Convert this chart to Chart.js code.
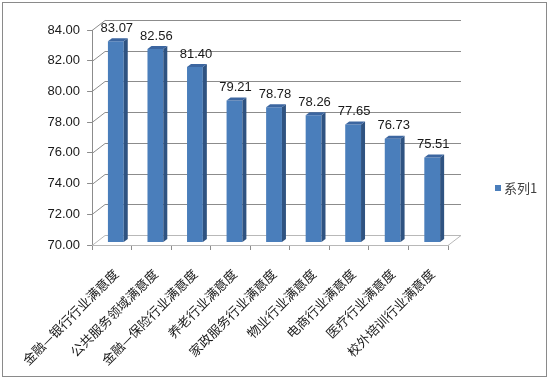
<!DOCTYPE html>
<html>
<head>
<meta charset="utf-8">
<script src="https://cdn.jsdelivr.net/npm/chart.js@4"></script>
<style>
  html, body { margin: 0; padding: 0; background: #fff; }
  canvas { display: block; }
</style>
</head>
<body>
<canvas id="chart" width="550" height="379"></canvas>
<script>
// data
const categories = ['金融—银行行业满意度', '公共服务领域满意度', '金融—保险行业满意度', '养老行业满意度',
    '家政服务行业满意度', '物业行业满意度', '电商行业满意度', '医疗行业满意度', '校外培训行业满意度'];
const values = [83.07, 82.56, 81.40, 79.21, 78.78, 78.26, 77.65, 76.73, 75.51];
const seriesName = '系列1';
const yMin = 70, yMax = 84, yStep = 2;

// 3D look
const WALL_DX = 13, WALL_DY = -10;   // depth of the floor / back wall
const BAR_DX = 4, BAR_DY = -3;       // bars sit a bit into the depth
const SIDE = 4, TOPD = 3;            // bar thickness faces
const FRONT = '#4a7ebb', SIDE_C = '#2f5381', TOP_C = '#3c66a0';

const walls = {
    id: 'walls',
    beforeDraw(chart) {
        const c = chart.ctx;
        c.save();
        c.strokeStyle = '#8a8a8a';
        c.lineWidth = 1;
        c.strokeRect(2.5, 2.5, 544, 374);
        c.restore();
    },
    beforeDatasetsDraw(chart) {
        const c = chart.ctx, y = chart.scales.y, a = chart.chartArea;
        c.save();
        c.lineWidth = 1;
        for (let v = yMin; v <= yMax; v += yStep) {
            const py = Math.round(y.getPixelForValue(v)) + 0.5;
            c.strokeStyle = v === yMin ? '#b8b8b8' : '#8c8c8c';
            c.beginPath();
            c.moveTo(a.left, py);
            c.lineTo(a.left + WALL_DX, py + WALL_DY);
            c.lineTo(a.right + WALL_DX, py + WALL_DY);
            c.stroke();
        }
        // right edge of the floor
        const by = Math.round(a.bottom) + 0.5;
        c.strokeStyle = '#b8b8b8';
        c.beginPath();
        c.moveTo(a.right, by);
        c.lineTo(a.right + WALL_DX, by + WALL_DY);
        c.stroke();
        c.restore();
    },
    beforeDatasetDraw(chart) {
        chart.ctx.save();
        chart.ctx.translate(BAR_DX, BAR_DY);
    },
    afterDatasetDraw(chart) {
        chart.ctx.restore();
    },
    afterDatasetsDraw(chart) {
        const c = chart.ctx;
        const meta = chart.getDatasetMeta(0);
        const floor = chart.scales.y.getPixelForValue(yMin);
        c.save();
        meta.data.forEach((bar, i) => {
            const l = bar.x - bar.width / 2 + BAR_DX;
            const r = bar.x + bar.width / 2 + BAR_DX;
            const t = bar.y + BAR_DY;
            const b = floor + BAR_DY;
            // side face
            c.fillStyle = SIDE_C;
            c.beginPath();
            c.moveTo(r, t);
            c.lineTo(r + SIDE, t - TOPD);
            c.lineTo(r + SIDE, b - TOPD);
            c.lineTo(r, b);
            c.closePath();
            c.fill();
            // top face
            c.fillStyle = TOP_C;
            c.beginPath();
            c.moveTo(l, t);
            c.lineTo(l + SIDE, t - TOPD);
            c.lineTo(r + SIDE, t - TOPD);
            c.lineTo(r, t);
            c.closePath();
            c.fill();
            // value label
            c.fillStyle = '#1a1a1a';
            c.font = '13px "Liberation Sans", Arial, sans-serif';
            c.textAlign = 'center';
            c.textBaseline = 'middle';
            c.fillText(values[i].toFixed(2), (l + r) / 2 + 1, t - 13);
        });
        c.restore();
    },
    afterDraw(chart) {
        const c = chart.ctx;
        const ds = chart.data.datasets[0];
        c.save();
        c.fillStyle = ds.backgroundColor;
        c.fillRect(495, 185, 6, 6);
        c.fillStyle = '#404040';
        c.font = '13px "Noto Sans CJK SC", sans-serif';
        c.textAlign = 'left';
        c.textBaseline = 'middle';
        c.fillText(ds.label, 504, 188);
        c.restore();
    }
};

new Chart(document.getElementById('chart'), {
    type: 'bar',
    data: {
        labels: categories,
        datasets: [{
            label: seriesName,
            data: values,
            backgroundColor: FRONT,
            borderWidth: 0,
            categoryPercentage: 1,
            barPercentage: 0.4
        }]
    },
    options: {
        responsive: false,
        devicePixelRatio: 1,
        animation: false,
        layout: { padding: { left: 0, top: 30, right: 102, bottom: 0 } },
        plugins: {
            legend: { display: false },
            tooltip: { enabled: false }
        },
        scales: {
            y: {
                min: yMin,
                max: yMax,
                afterFit(scale) { scale.width = 88; },
                ticks: {
                    stepSize: yStep,
                    padding: 7,
                    color: '#1a1a1a',
                    font: { family: '"Liberation Sans", Arial, sans-serif', size: 13 },
                    callback: v => Number(v).toFixed(2)
                },
                grid: { drawOnChartArea: false, tickLength: 5, color: '#8c8c8c' },
                border: { color: '#8c8c8c' }
            },
            x: {
                offset: true,
                afterFit(scale) { scale.height = 134; },
                ticks: {
                    autoSkip: false,
                    minRotation: 45,
                    maxRotation: 45,
                    padding: 16,
                    labelOffset: 4,
                    color: '#1a1a1a',
                    font: { family: '"Noto Sans CJK SC", sans-serif', size: 13 }
                },
                grid: { drawOnChartArea: false, tickLength: 5, color: '#8c8c8c', offset: true },
                border: { color: '#b8b8b8' }
            }
        }
    },
    plugins: [walls]
});
</script>
</body>
</html>
